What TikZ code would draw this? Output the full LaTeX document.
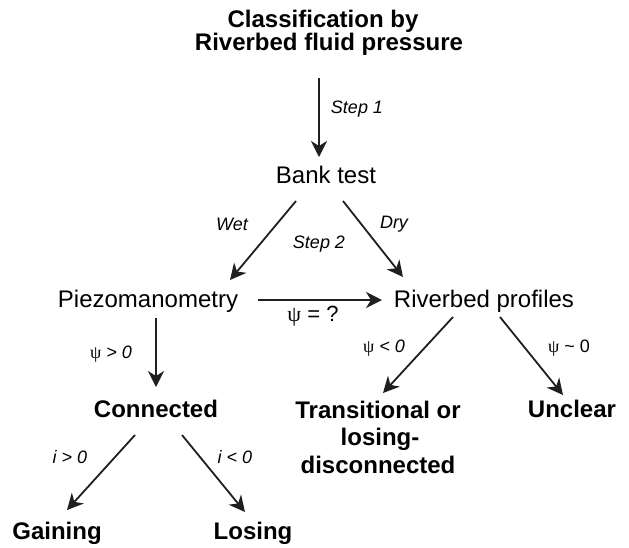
\documentclass[tikz,border=0pt]{standalone}
\usepackage{fontspec}
\setmainfont{Liberation Sans}
\newfontfamily\psifont{Liberation Serif}
\usetikzlibrary{arrows.meta,calc}
\tikzset{
  txt/.style={anchor=base,inner sep=0pt,font=\fontsize{24}{28}\selectfont},
  btxt/.style={txt,font=\fontsize{24}{28}\selectfont\bfseries},
  lbl/.style={anchor=base,inner sep=0pt,font=\fontsize{18}{22}\selectfont\itshape},
  arr/.style={line width=1.8pt,draw=black!88,-{Stealth[length=16pt,width=16pt,inset=5pt]}}
}
\newcommand{\psisym}{{\psifont\upshape ψ}}
\begin{document}
\begin{tikzpicture}[x=1pt,y=-1pt]
\useasboundingbox (0,0) rectangle (629,547);
% main nodes
\node[btxt] (t1) at (323,27) {Classification by};
\node[btxt] (t2) at (329,50) {Riverbed fluid pressure};
\node[txt] (bank) at (326,183) {Bank test};
\node[txt] (piezo) at (148,307) {Piezomanometry};
\node[txt] (river) at (484,307) {Riverbed profiles};
\node[btxt] (conn) at (156,417) {Connected};
\node[btxt] (trans) at (378,418) {Transitional or};
\node[btxt] (trans2) at (380,445) {losing-};
\node[btxt] (trans3) at (378,473) {disconnected};
\node[btxt] (unclear) at (572,417) {Unclear};
\node[btxt] (gain) at (57,539) {Gaining};
\node[btxt] (lose) at (253,539) {Losing};
% labels
\node[lbl] (step1) at (357,113) {Step 1};
\node[lbl] (wet) at (232,230) {Wet};
\node[lbl] (dry) at (394,228) {Dry};
\node[lbl] (step2) at (319,248) {Step 2};
\node[anchor=base,inner sep=0pt,font=\fontsize{22}{26}\selectfont] (psiq) at (313,321) {{\psifont ψ} = ?};
\node[lbl] (pgt) at (111,358) {\psisym{} > 0};
\node[lbl] (plt) at (384,352) {\psisym{} < 0};
\node[lbl] (psim) at (569,352) {\psisym{} \upshape\char`~{} 0};
\node[lbl] (igt) at (70,463) {i > 0};
\node[lbl] (ilt) at (235,463) {i < 0};
% connectors
\draw[arr] ($(t2.base)+(-10,28)$) -- ($(bank.base)+(-7,-26)$);
\draw[arr] ($(bank.base)+(-30,18)$) -- ($(piezo.base)+(82,-27)$);
\draw[arr] ($(bank.base)+(17,18)$) -- ($(river.base)+(-81,-30)$);
\draw[arr] ($(piezo.base)+(110,-7)$) -- ($(river.base)+(-102,-7)$);
\draw[arr] ($(piezo.base)+(8,11)$) -- ($(conn.base)+(0,-30)$);
\draw[arr] ($(river.base)+(-31,10)$) -- ($(trans.base)+(5,-25)$);
\draw[arr] ($(river.base)+(16,10)$) -- ($(unclear.base)+(-9,-22)$);
\draw[arr] ($(conn.base)+(-21,18)$) -- ($(gain.base)+(10,-29)$);
\draw[arr] ($(conn.base)+(26,18)$) -- ($(lose.base)+(-8,-27)$);
\end{tikzpicture}
\end{document}
